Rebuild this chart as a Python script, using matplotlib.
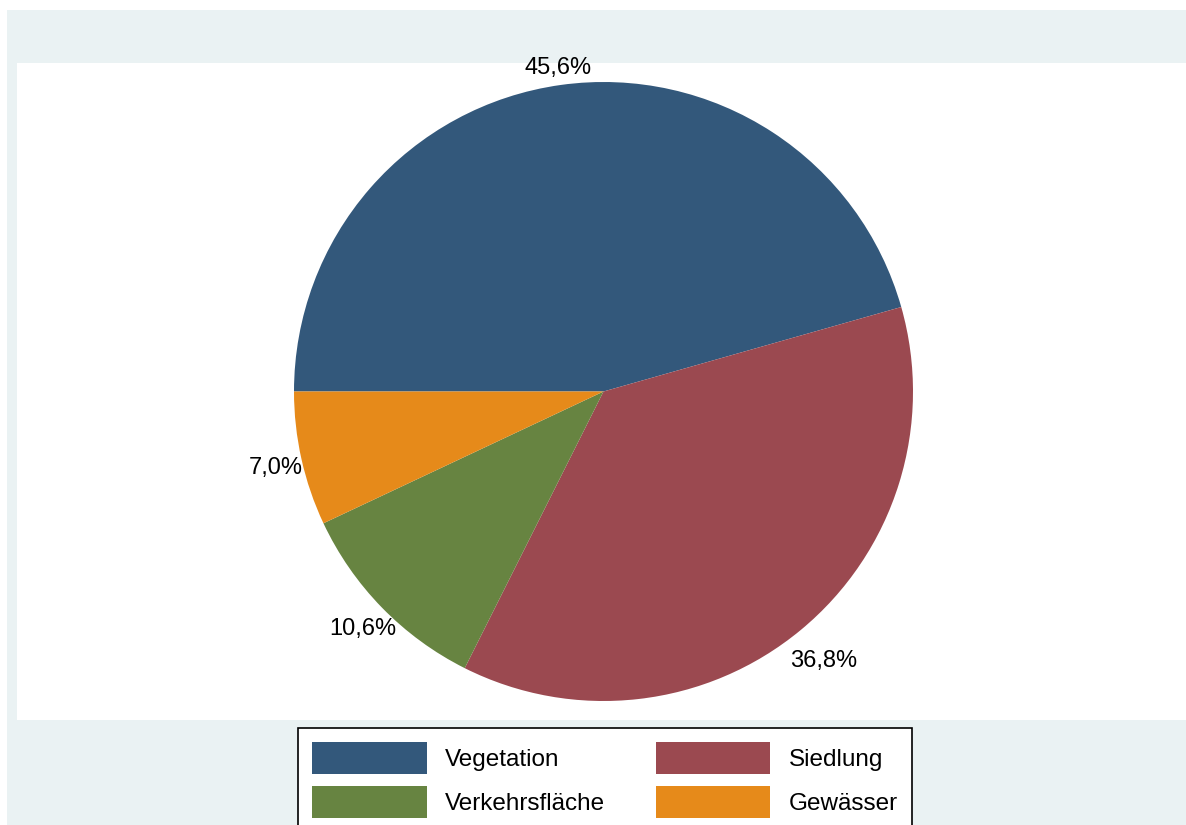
import numpy as np
import matplotlib
matplotlib.use("Agg")
import matplotlib.pyplot as plt
from matplotlib.patches import Rectangle

plt.rcParams["font.family"] = ["Liberation Sans", "DejaVu Sans"]

# data
categories = ["Vegetation", "Siedlung", "Verkehrsfläche", "Gewässer"]
shares = [45.6, 36.8, 10.6, 7.0]
colors = ["#33587b", "#9b4950", "#678441", "#e68a1a"]
# label distance from centre (in radii), as placed in the original
label_dist = [1.065, 1.118, 1.087, 1.085]

W, H = 1186, 825
fig = plt.figure(figsize=(W / 100, H / 100), dpi=100)
fig.patch.set_facecolor("white")


def px_rect(x0, y0, x1, y1, color):
    r = Rectangle((x0 / W, 1 - y1 / H), (x1 - x0) / W, (y1 - y0) / H,
                  transform=fig.transFigure, facecolor=color,
                  edgecolor="none", zorder=-2)
    fig.add_artist(r)


# outer light panel and white plot region
px_rect(7, 10, W, H, "#eaf2f3")
px_rect(17, 63, W, 720, "white")

# pie axes: circle centre ~(603.5, 391.5), radius ~309.5 px
cx, cy, rad = 603.5, 391.5, 309.5
ax = fig.add_axes([(cx - rad) / W, 1 - (cy + rad) / H, 2 * rad / W, 2 * rad / H])
wedges, texts, autotexts = ax.pie(
    shares, colors=colors, startangle=180, counterclock=False,
    autopct=lambda p: f"{p:.1f}%".replace(".", ","),
    pctdistance=1.09, wedgeprops=dict(linewidth=0),
    textprops=dict(fontsize=17, color="black"),
)
for w, t, d in zip(wedges, autotexts, label_dist):
    ang = np.deg2rad((w.theta1 + w.theta2) / 2)
    t.set_position((d * np.cos(ang), d * np.sin(ang) - 0.01))
    t.set_ha("center")
    t.set_va("center")
    t.set_clip_on(False)
ax.set_xlim(-1, 1)
ax.set_ylim(-1, 1)
ax.set_aspect("auto")
ax.axis("off")

# legend filled row-wise (Vegetation, Siedlung / Verkehrsfläche, Gewässer)
order = [0, 2, 1, 3]
leg = fig.legend(
    [wedges[i] for i in order], [categories[i] for i in order],
    ncol=2, loc="upper center",
    bbox_to_anchor=(605 / W, 1 - 728 / H), borderaxespad=0,
    fontsize=17.5, handlelength=4.7, handleheight=1.66, handletextpad=0.75,
    columnspacing=2.1, labelspacing=0.48, borderpad=0.58,
    fancybox=False, framealpha=1, edgecolor="black",
)
leg.get_frame().set_linewidth(1.2)

fig.savefig("out.png", dpi=100)
